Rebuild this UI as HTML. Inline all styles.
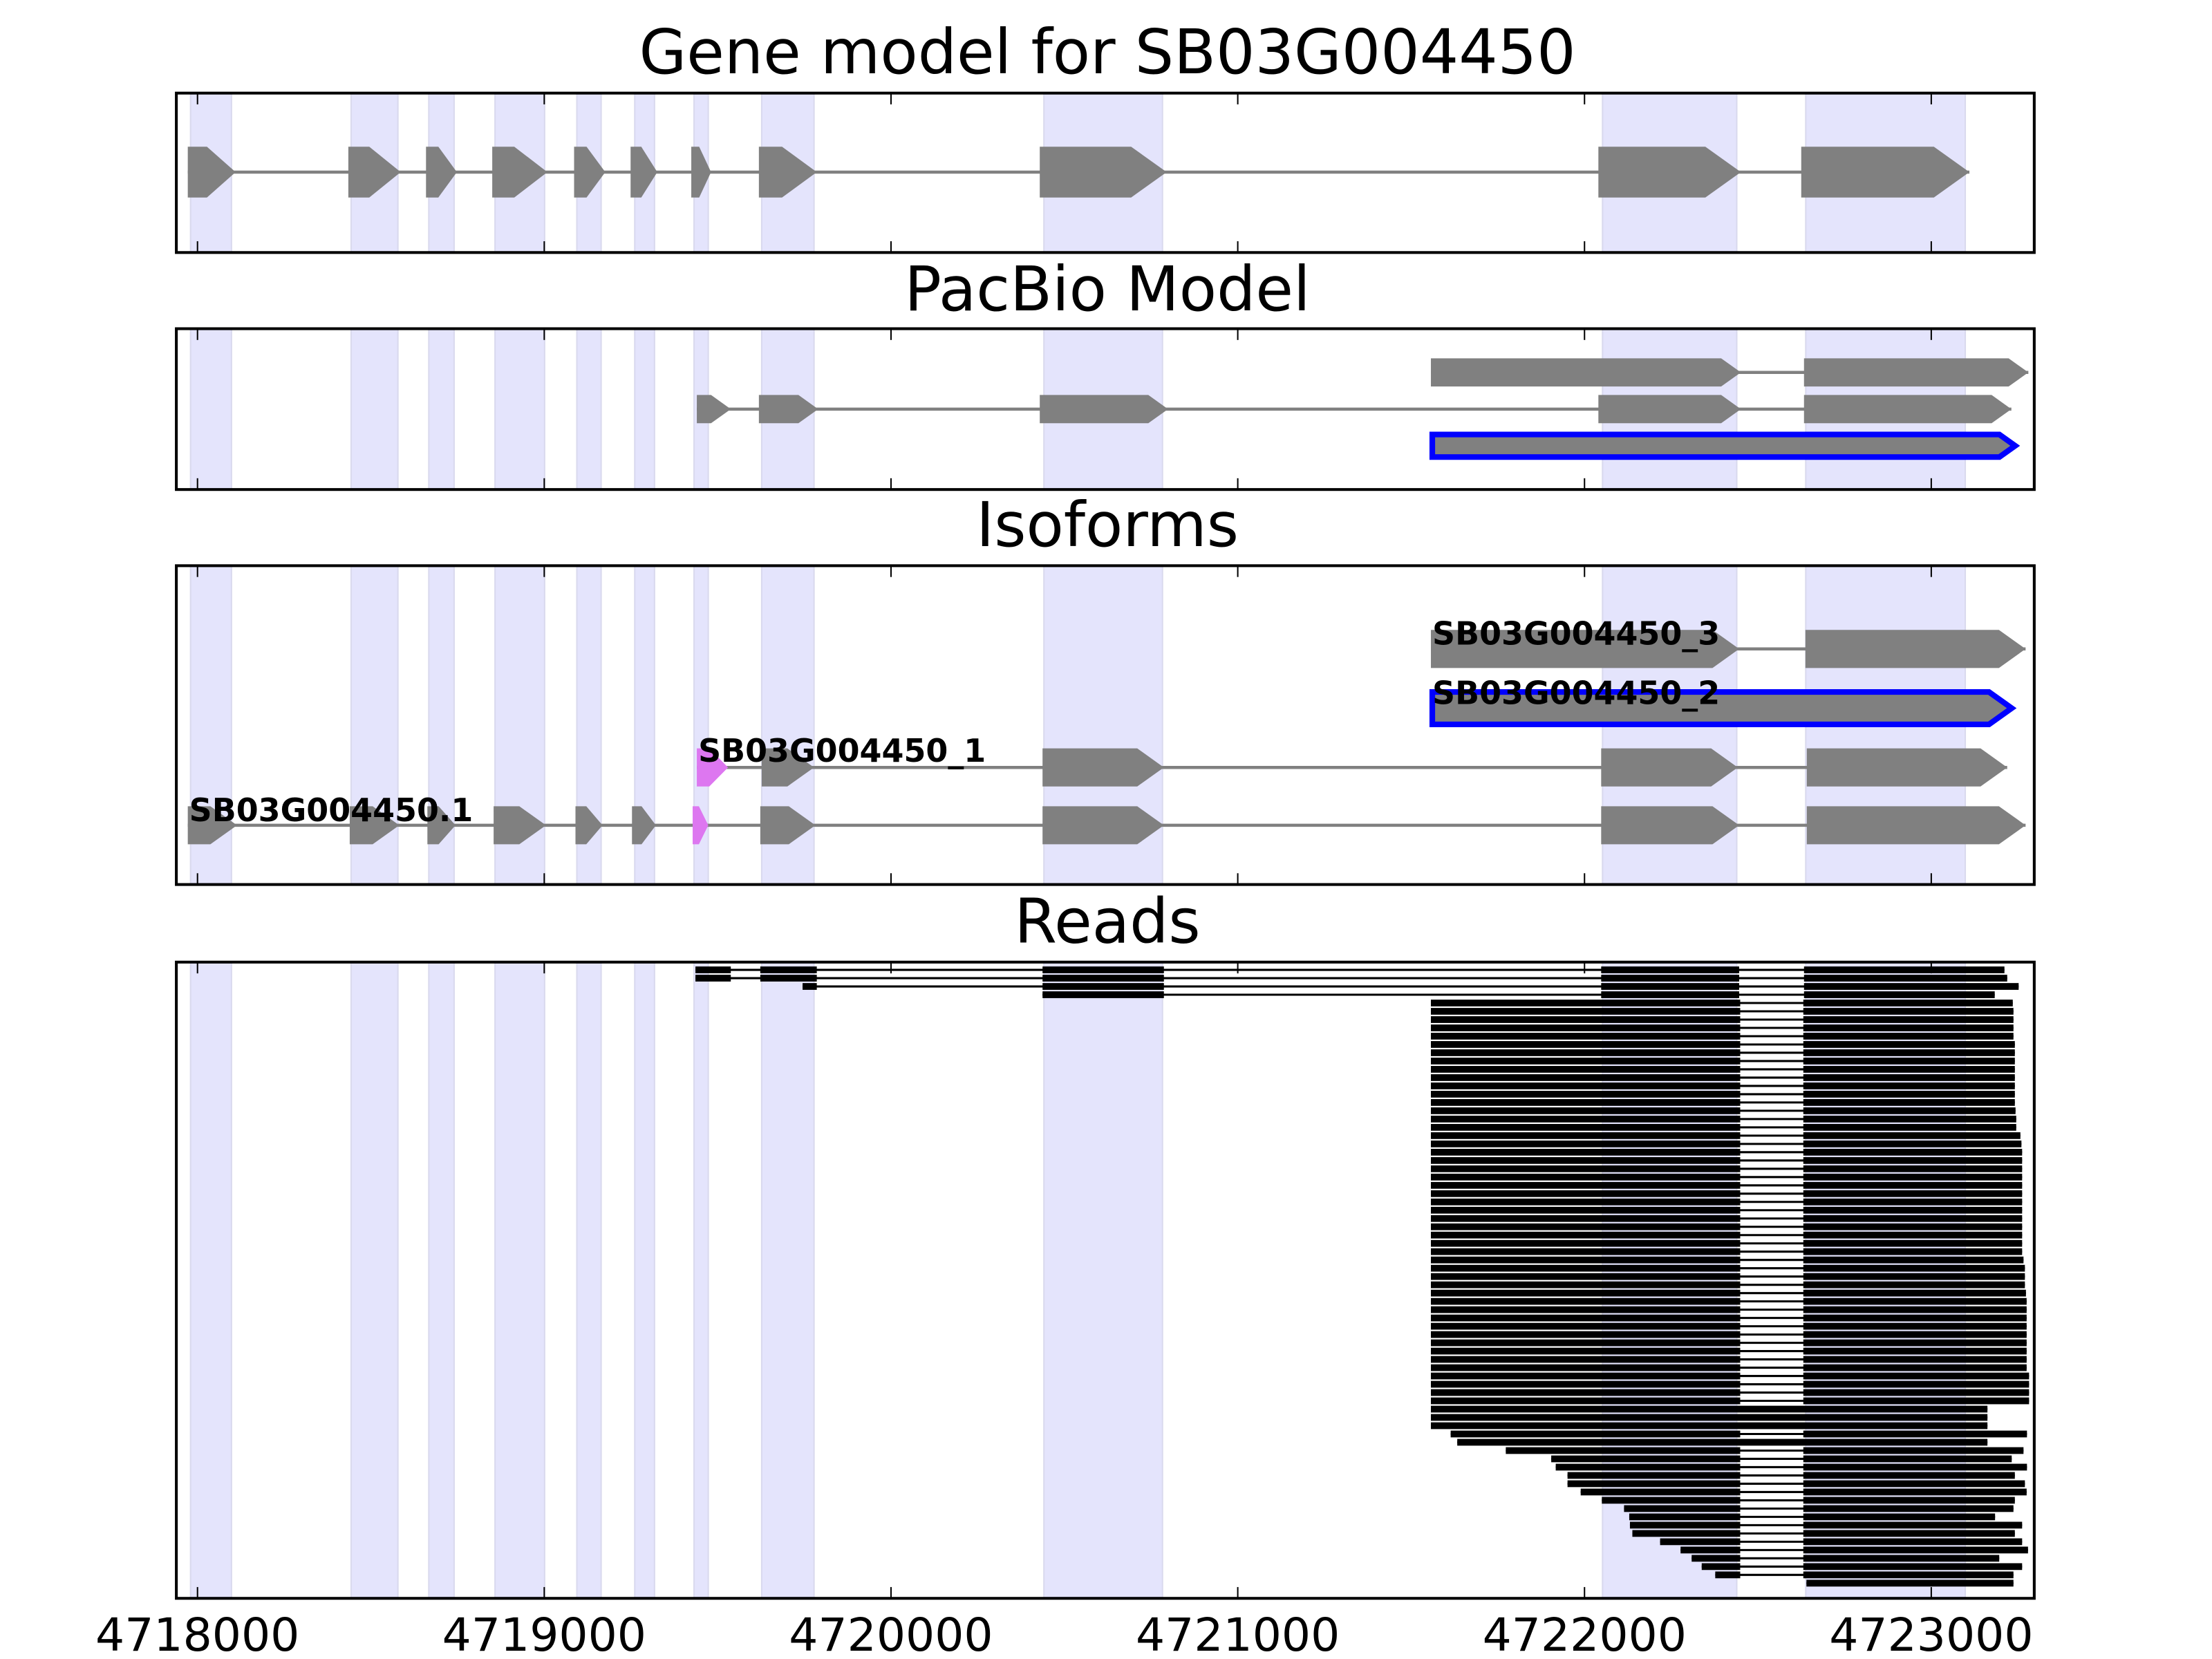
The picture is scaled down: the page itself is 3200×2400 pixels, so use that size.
<!DOCTYPE html>
<html><head><meta charset="utf-8"><style>
html,body{margin:0;padding:0;background:#fff;}
svg{display:block;}
text{font-family:"DejaVu Sans","Liberation Sans",sans-serif;}
</style></head><body>
<svg id="chart" width="3200" height="2400" viewBox="0 0 1568 1176" preserveAspectRatio="none" xmlns="http://www.w3.org/2000/svg">
<rect x="0" y="0" width="1568" height="1176" fill="#fff"/>
</svg>
<script>
// ---- data (genomic coordinates) ----
const xTicks = [4718000, 4719000, 4720000, 4721000, 4722000, 4723000];
const tickLabels = ["4718000", "4719000", "4720000", "4721000", "4722000", "4723000"];
const shadeStarts = [4717980, 4718443, 4718667, 4718858, 4719094, 4719261, 4719432, 4719627, 4720441, 4722052, 4722638];
const shadeEnds   = [4718098, 4718578, 4718740, 4719001, 4719164, 4719318, 4719473, 4719778, 4720783, 4722439, 4723098];
const panelTitles = ["Gene model for SB03G004450", "PacBio Model", "Isoforms", "Reads"];

const geneExonStarts = [4717972, 4718435, 4718659, 4718850, 4719086, 4719249, 4719424, 4719619, 4720429, 4722040, 4722625];
const geneExonEnds   = [4718110, 4718586, 4718748, 4719009, 4719176, 4719326, 4719481, 4719786, 4720795, 4722451, 4723110];

const pacbioRow1Starts = [4721557, 4722633];
const pacbioRow1Ends   = [4722451, 4723280];
const pacbioRow2Starts = [4719440, 4719619, 4720429, 4722040, 4722633];
const pacbioRow2Ends   = [4719538, 4719790, 4720799, 4722451, 4723231];
const pacbioRow3Starts = [4721561];
const pacbioRow3Ends   = [4723242];

const iso3Starts = [4721557, 4722637];
const iso3Ends   = [4722446, 4723272];
const iso2Starts = [4721561];
const iso2Ends   = [4723232];
const iso1Starts = [4719440, 4719627, 4720437, 4722048, 4722641];
const iso1Ends   = [4719530, 4719778, 4720787, 4722442, 4723219];
const iso1Colors = ["#dd77f0", "#808080", "#808080", "#808080", "#808080"];
const isoDotStarts = [4717972, 4718439, 4718663, 4718854, 4719090, 4719253, 4719428, 4719623, 4720437, 4722048, 4722641];
const isoDotEnds   = [4718114, 4718582, 4718744, 4719005, 4719168, 4719322, 4719473, 4719782, 4720787, 4722446, 4723272];
const isoDotColors = ["#808080","#808080","#808080","#808080","#808080","#808080","#dd77f0","#808080","#808080","#808080","#808080"];
const isoLabels = ["SB03G004450_3", "SB03G004450_2", "SB03G004450_1", "SB03G004450.1"];
const isoLabelPos = [4721561, 4721561, 4719444, 4717976];

// reads: top reads spanning from earlier exons
const topReadExons = [
  [[4719436,4719538],[4719623,4719786],[4720437,4720787],[4722048,4722446],[4722633,4723211]],
  [[4719436,4719538],[4719623,4719786],[4720437,4720787],[4722048,4722446],[4722633,4723219]],
  [[4719745,4719786],[4720437,4720787],[4722048,4722446],[4722633,4723252]],
  [[4720437,4720787],[4722048,4722446],[4722633,4723183]]
];
const bulkStart = 4721557;
const intronStart = 4722449;
const intronEnd = 4722631;
const bulkEnds = [4723235,4723237,4723237,4723237,4723237,4723241,4723241,4723241,4723241,4723241,4723241,4723241,4723241,4723243,4723245,4723245,4723257,4723260,4723262,4723262,4723262,4723262,4723262,4723262,4723262,4723262,4723262,4723262,4723262,4723262,4723262,4723266,4723270,4723270,4723270,4723273,4723275,4723275,4723275,4723275,4723275,4723275,4723275,4723275,4723275,4723282,4723282,4723282,4723282];
const retainedEnds = [4723162, 4723162, 4723162];
const tailStarts = [4721614, 4721633, 4721773, 4721904, 4721917, 4721951, 4721951, 4721989, 4722050, 4722114, 4722129, 4722131, 4722138, 4722218, 4722277, 4722309, 4722338, 4722377, 4722640];
const tailEnds   = [4723276, 4723162, 4723266, 4723232, 4723276, 4723241, 4723270, 4723275, 4723241, 4723237, 4723184, 4723262, 4723241, 4723262, 4723279, 4723196, 4723262, 4723237, 4723237];
const tailRetained = [false, true, false, false, false, false, false, false, false, false, false, false, false, false, false, false, false, false, false];

// ---- layout ----
const NS = "http://www.w3.org/2000/svg";
const svg = document.getElementById("chart");
const X0 = 125, X1 = 1442;
const G0 = 4718000, PXPER = 0.2458;
function xs(g){ return 140 + (g - G0) * PXPER; }
const panels = [
  {top:66, bot:179, titleY:52},
  {top:233, bot:347, titleY:220},
  {top:401, bot:627, titleY:387},
  {top:682, bot:1133, titleY:668}
];
const panelNames = ["gene-model-panel","pacbio-model-panel","isoforms-panel","reads-panel"];
function el(tag, attrs, parent){
  const e = document.createElementNS(NS, tag);
  for (const k in attrs) e.setAttribute(k, attrs[k]);
  (parent || svg).appendChild(e);
  return e;
}
function arrow(g, s, e, yc, h, fill, stroke, sw){
  const x0 = xs(s), x1 = xs(e);
  const tip = Math.min(h*0.7, (x1-x0)*0.6);
  const pts = `${x0},${yc-h/2} ${x1-tip},${yc-h/2} ${x1},${yc} ${x1-tip},${yc+h/2} ${x0},${yc+h/2}`;
  const p = el("polygon", {points: pts, fill: fill, stroke: stroke || "none", "stroke-width": sw || 0}, g);
  
  
  return p;
}
function intron(g, s, e, yc){
  const l = el("line", {x1: xs(s), x2: xs(e), y1: yc, y2: yc, stroke: "#808080", "stroke-width": 2.2}, g);
  
  
}
function model(g, starts, ends, yc, h, colors){
  intron(g, starts[0], ends[ends.length-1], yc);
  for (let i=0;i<starts.length;i++) arrow(g, starts[i], ends[i], yc, h, colors ? colors[i] : "#808080");
}

panels.forEach((p, pi) => {
  const g = el("g", {});
  
  
  p.g = g;
  const t = el("text", {x: 785, y: p.titleY, "text-anchor": "middle", "font-size": 43.5, fill: "#000"}, g);
  t.textContent = panelTitles[pi];
  
  
  for (let i=0;i<shadeStarts.length;i++){
    const r = el("rect", {x: xs(shadeStarts[i]), y: p.top, width: xs(shadeEnds[i]) - xs(shadeStarts[i]), height: p.bot - p.top, fill: "#e4e4fc", stroke: "#d9d9ee", "stroke-width": 1}, g);
    
    
  }
});

// gene model
model(panels[0].g, geneExonStarts, geneExonEnds, 122, 36);
// pacbio
model(panels[1].g, pacbioRow1Starts, pacbioRow1Ends, 264, 20);
model(panels[1].g, pacbioRow2Starts, pacbioRow2Ends, 290, 20);
arrow(panels[1].g, pacbioRow3Starts[0], pacbioRow3Ends[0], 316, 16, "#808080", "#0000ff", 4);
// isoforms
const ig = panels[2].g;
model(ig, iso3Starts, iso3Ends, 460, 27);
arrow(ig, iso2Starts[0], iso2Ends[0], 502, 23, "#808080", "#0000ff", 4);
model(ig, iso1Starts, iso1Ends, 544, 27, iso1Colors);
model(ig, isoDotStarts, isoDotEnds, 585, 27, isoDotColors);
[457, 499, 540, 582].forEach((y, i) => {
  const t = el("text", {x: xs(isoLabelPos[i]), y: y, "font-size": 22.5, "font-weight": "bold", fill: "#000"}, ig);
  t.textContent = isoLabels[i];
  
  
});

// reads
const rg = panels[3].g;
const ROW0 = 687.5, ROWSTEP = 5.875, RH = 4.8;
function read(row, exons){
  const y = ROW0 + row*ROWSTEP;
  const g = el("g", {}, rg);
  
  
  const l = el("line", {x1: xs(exons[0][0]), x2: xs(exons[exons.length-1][1]), y1: y, y2: y, stroke: "#000", "stroke-width": 1.5}, g);
  
  
  exons.forEach(e => {
    const r = el("rect", {x: xs(e[0]), y: y - RH/2, width: xs(e[1]) - xs(e[0]), height: RH, fill: "#000"}, g);
    
    
  });
}
let row = 0;
topReadExons.forEach(ex => read(row++, ex));
bulkEnds.forEach(e => read(row++, [[bulkStart, intronStart], [intronEnd, e]]));
retainedEnds.forEach(e => read(row++, [[bulkStart, e]]));
tailStarts.forEach((s, i) => {
  if (tailRetained[i]) read(row++, [[s, tailEnds[i]]]);
  else if (s >= intronEnd) read(row++, [[s, tailEnds[i]]]);
  else read(row++, [[s, intronStart], [intronEnd, tailEnds[i]]]);
});

// frames & ticks
panels.forEach((p) => {
  const f = el("rect", {x: X0, y: p.top, width: X1 - X0, height: p.bot - p.top, fill: "none", stroke: "#000", "stroke-width": 2}, p.g);
  
  
  xTicks.forEach(t => {
    const x = xs(t);
    const a = el("line", {x1: x, x2: x, y1: p.top, y2: p.top + 8, stroke: "#000", "stroke-width": 1}, p.g);
    
    
    const b = el("line", {x1: x, x2: x, y1: p.bot, y2: p.bot - 8, stroke: "#000", "stroke-width": 1}, p.g);
    
    
  });
});
xTicks.forEach((t, i) => {
  const tx = el("text", {x: xs(t), y: 1170, "text-anchor": "middle", "font-size": 32.5, fill: "#000"});
  tx.textContent = tickLabels[i];
  
  
});
</script>
</body></html>
